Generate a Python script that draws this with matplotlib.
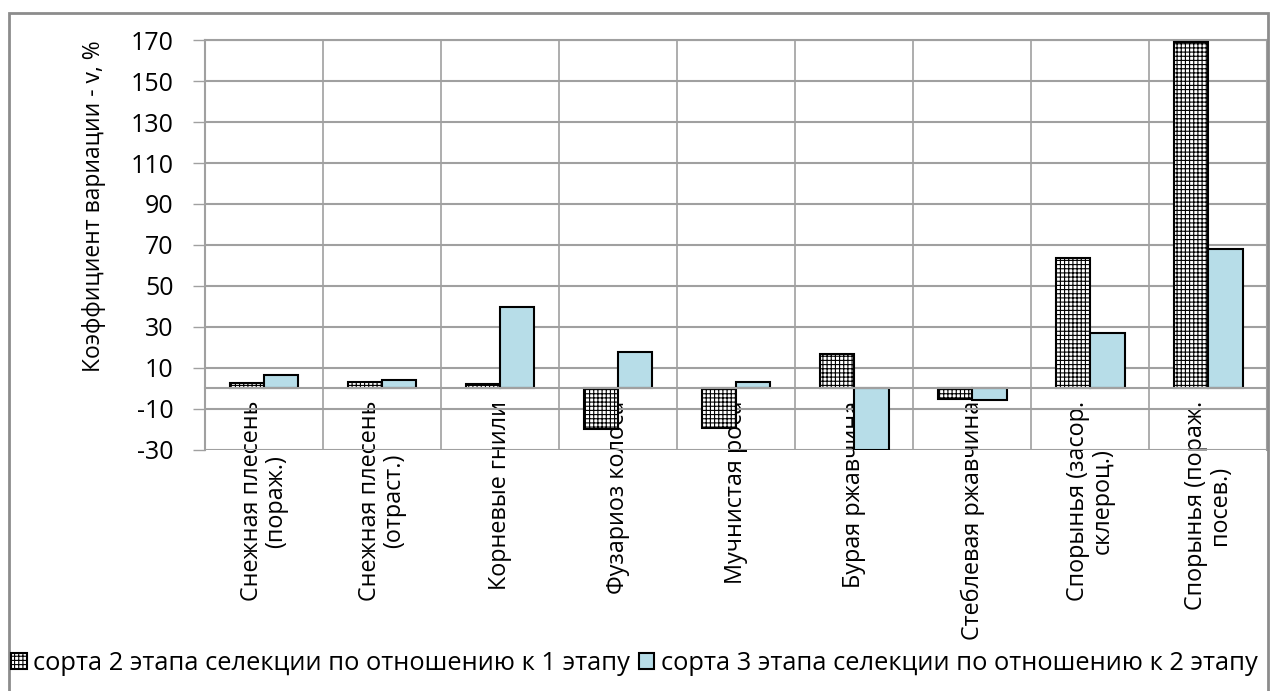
import matplotlib
matplotlib.use('Agg')
import matplotlib.pyplot as plt
from matplotlib.patches import Rectangle
import numpy as np

plt.rcParams['font.family'] = ['Open Sans', 'DejaVu Sans']
plt.rcParams['hatch.linewidth'] = 0.8
plt.rcParams['axes.unicode_minus'] = False

# diseases (category axis)
categories = [
    "Снежная плесень\n(пораж.)",
    "Снежная плесень\n(отраст.)",
    "Корневые гнили",
    "Фузариоз колоса",
    "Мучнистая роса",
    "Бурая ржавчина",
    "Стеблевая ржавчина",
    "Спорынья (засор.\nсклероц.)",
    "Спорынья (пораж.\nпосев.)",
]
# coefficient of variation, %
stage2_vs_1 = [2.6, 3.1, 1.9, -20.0, -19.5, 17.0, -5.0, 63.5, 169.0]
stage3_vs_2 = [6.7, 3.9, 39.5, 17.6, 3.2, -30.0, -5.8, 27.0, 68.0]
series_names = ["сорта 2 этапа селекции по отношению к 1 этапу",
                "сорта 3 этапа селекции по отношению к 2 этапу"]
yticks = list(range(-30, 171, 20))

GRID = '#a0a0a0'
BLUE = '#b7dde8'

fig = plt.figure(figsize=(12.7, 6.91), dpi=100)
ax = fig.add_axes([0.1614, 0.349, 0.8366, 0.593])

x = np.arange(len(categories))
w = 0.29
b1 = ax.bar(x - w / 2, stage2_vs_1, w, facecolor='white', edgecolor='black',
            hatch='++++', linewidth=1.5, label=series_names[0], zorder=3)
b2 = ax.bar(x + w / 2, stage3_vs_2, w, facecolor=BLUE, edgecolor='black',
            linewidth=1.5, label=series_names[1], zorder=3)

ax.set_xlim(-0.5, len(categories) - 0.5)
ax.set_ylim(-30, 170)
ax.set_yticks(yticks)
ax.tick_params(axis='y', labelsize=18, length=8.5, width=1, color=GRID, pad=14)

# category axis sits on the zero line
ax.spines['bottom'].set_position(('data', 0))
ax.set_xticks(x)
ax.set_xticklabels(categories, rotation=90, fontsize=16.8, va='top', ha='center',
                   multialignment='center', linespacing=1.0)
ax.tick_params(axis='x', length=0, pad=9)

# grid: horizontal at y ticks, vertical at category boundaries
ax.set_axisbelow(True)
ax.grid(axis='y', color=GRID, linewidth=1.5)
for xb in np.arange(-0.5, len(categories), 1.0):
    ax.axvline(xb, color=GRID, linewidth=1.2, zorder=1)
for side in ['left', 'right', 'top', 'bottom']:
    ax.spines[side].set_color(GRID)
    ax.spines[side].set_linewidth(1.5)
ax.spines['bottom'].set_zorder(4)

ax.set_ylabel("Коэффициент вариации - v, %", fontsize=16.5)
ax.yaxis.set_label_coords(-0.093, 0.595)

fig.legend(handles=[b1, b2], labels=series_names, loc='center left',
           bbox_to_anchor=(0.009, 0.04), ncol=2, frameon=False,
           fontsize=18.4, handlelength=0.6, handleheight=0.6,
           handletextpad=0.25, columnspacing=0.35, borderaxespad=0,
           borderpad=0)

# outer chart frame
fig.patches.append(Rectangle((9 / 1270, -0.01), 1259 / 1270, 1 - 13 / 691 + 0.01,
                             transform=fig.transFigure, fill=False,
                             edgecolor='#8c8c8c', linewidth=2, zorder=0))

fig.savefig('out.png', dpi=100)
